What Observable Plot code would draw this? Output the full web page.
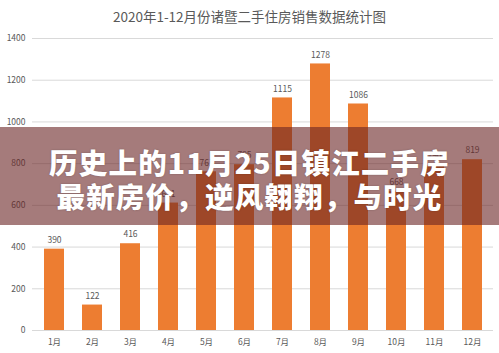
<!DOCTYPE html>
<html><head><meta charset="utf-8">
<script src="https://cdn.jsdelivr.net/npm/d3@7"></script>
<script src="https://cdn.jsdelivr.net/npm/@observablehq/plot@0.6"></script>
<style>
body{margin:0;background:#fff;}
#wrap{position:relative;width:499px;height:353px;overflow:hidden;background:#fff;font-family:"Noto Sans CJK SC","Noto Sans",sans-serif;}
#title{height:28px;line-height:32px;text-align:center;font-size:13.5px;color:#595959;white-space:nowrap;}
#chart svg{display:block;}
#band{position:absolute;left:0;top:127px;width:499px;height:98px;background:rgba(105,35,35,0.6);}
#headline{position:absolute;left:0;top:145px;width:499px;text-align:center;color:#fff;font-weight:900;font-size:28.5px;line-height:34px;letter-spacing:1.2px;text-shadow:0 0 2px rgba(0,0,0,0.25);white-space:nowrap;}
</style>
</head><body>
<div id="wrap">
  <div id="title">2020年1-12月份诸暨二手住房销售数据统计图</div>
  <div id="chart"></div>
  <div id="band"></div>
  <div id="headline">历史上的11月25日镇江二手房<br>最新房价，逆风翱翔，与时光</div>
</div>
<script>
const months = ["1月","2月","3月","4月","5月","6月","7月","8月","9月","10月","11月","12月"];
const sales = [390, 122, 416, 611, 761, 795, 1115, 1278, 1086, 668, 790, 819];
const yTicks = [0, 200, 400, 600, 800, 1000, 1200, 1400];

const data = months.map((m, i) => ({month: m, value: sales[i]}));

const chart = Plot.plot({
  width: 499,
  height: 325,
  marginTop: 10,
  marginBottom: 23,
  marginLeft: 32,
  marginRight: 6,
  style: {fontFamily: '"Noto Sans CJK SC","Noto Sans",sans-serif', fontSize: "8.5px", color: "#595959", background: "transparent"},
  x: {domain: months, paddingInner: 0.48, paddingOuter: 0.24, label: null},
  y: {domain: [0, 1400], label: null},
  marks: [
    Plot.gridY(yTicks, {stroke: "#d9d9d9", strokeOpacity: 1, strokeWidth: 1}),
    Plot.barY(data, {x: "month", y: "value", fill: "#ED7D31"}),
    Plot.text(data, {x: "month", y: "value", text: d => String(d.value), dy: -9, fill: "#595959"}),
    Plot.axisX({tickSize: 0, tickPadding: 8, label: null}),
    Plot.axisY(yTicks, {tickSize: 0, tickPadding: 7, label: null, tickFormat: d => String(d)})
  ]
});
document.getElementById("chart").appendChild(chart);
</script>
</body></html>
